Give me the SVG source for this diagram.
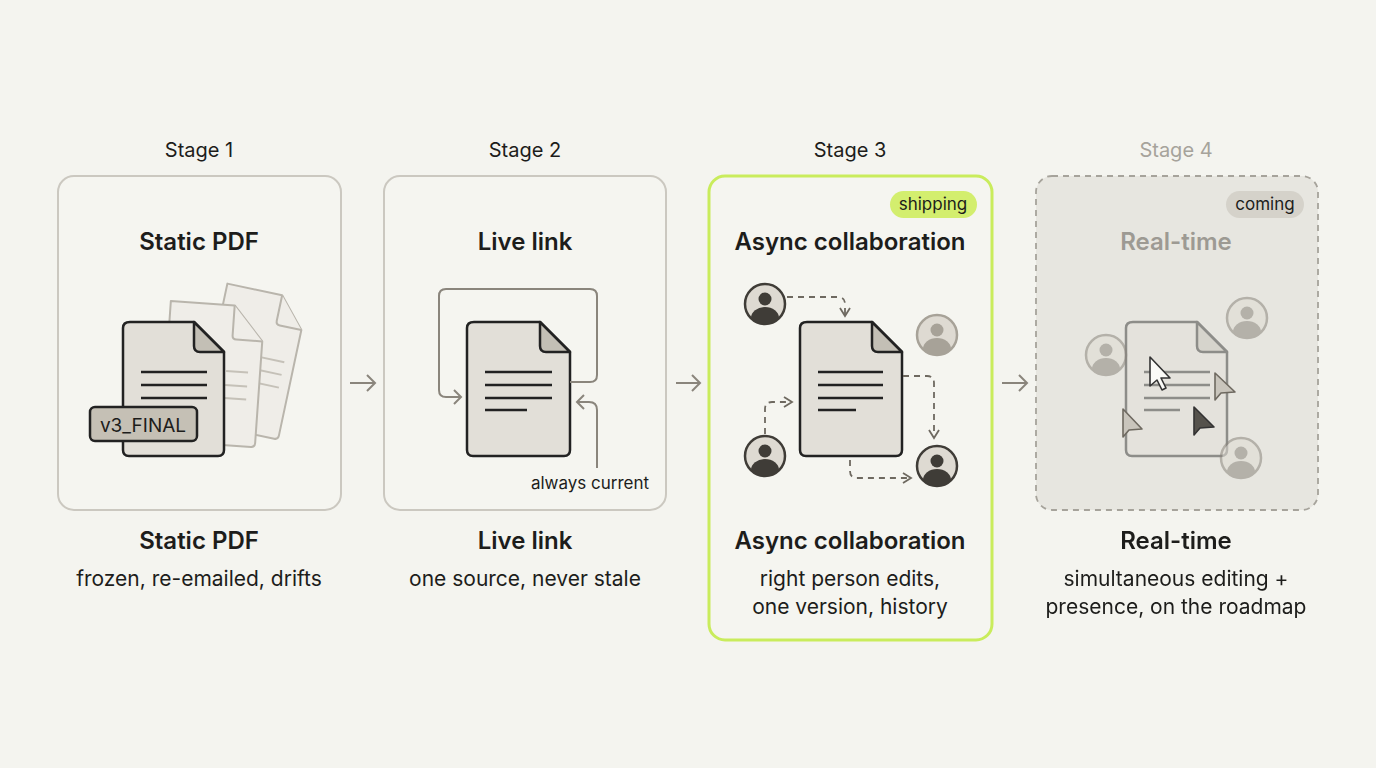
<svg xmlns="http://www.w3.org/2000/svg" width="1376" height="768" viewBox="0 0 1376 768">
<defs>
<style>
.t{font-family:Inter,"Liberation Sans",sans-serif;fill:#1d1d1b;text-anchor:middle}
.stage{font-size:20px}
.h{font-size:24px;font-weight:600}
.s{font-size:21px}
.card{fill:#f5f5f0;stroke:#cbc8c0;stroke-width:2}
.doc{fill:#e2dfd8;stroke:#222;stroke-width:2.5;stroke-linejoin:round}
.fold{fill:#c3bfb5;stroke:#222;stroke-width:2.5;stroke-linejoin:round}
.ln{stroke:#222;stroke-width:2.5}
.con{fill:none;stroke:#8a857c;stroke-width:2}
.dash{fill:none;stroke:#6e6960;stroke-width:1.8;stroke-dasharray:6 5}
.ghost{fill:#efede8;stroke:#b9b5ac;stroke-width:2;stroke-linejoin:round}
.gl{stroke:#c5c1b8;stroke-width:2}
</style>
<marker id="ah" viewBox="0 0 12 12" refX="10" refY="6" markerWidth="12" markerHeight="12" markerUnits="userSpaceOnUse" orient="auto"><path d="M2,1 L10,6 L2,11" fill="none" stroke="#6e6960" stroke-width="1.8"/></marker>
<symbol id="av" viewBox="-21 -21 42 42" overflow="visible"><circle r="20" stroke="currentColor" stroke-width="2.5" fill="#dedad2"/><circle cy="-5" r="6.5" fill="currentColor"/><path d="M-14,14 A14,11 0 0 1 14,14 A20,20 0 0 1 -14,14Z" fill="currentColor"/></symbol>
</defs>
<rect width="1376" height="768" fill="#f4f4ef"/>
<g id="labels">
<text class="t stage" x="199" y="157">Stage 1</text>
<text class="t stage" x="525" y="157">Stage 2</text>
<text class="t stage" x="850" y="157">Stage 3</text>
<text class="t stage" x="1176" y="157" style="fill:#a6a39b">Stage 4</text>
</g>
<g id="stage1">
<rect class="card" x="58" y="176" width="283" height="334" rx="16"/>
<text class="t h" x="199" y="250">Static PDF</text>
<g transform="rotate(12 250 360)">
<path class="ghost" d="M212,290 L268,290 L294,320 L294,428 Q294,432 290,432 L216,432 Q212,432 212,428Z"/>
<path class="ghost" d="M268,290 L268,316 Q268,320 272,320 L294,320"/>
<line class="gl" x1="256" y1="355" x2="284" y2="355"/><line class="gl" x1="256" y1="368" x2="284" y2="368"/><line class="gl" x1="256" y1="381" x2="284" y2="381"/>
</g>
<g transform="rotate(4 212 372)">
<path class="ghost" d="M166,304 L230,304 L260,338 L260,440 Q260,444 256,444 L170,444 Q166,444 166,440Z"/>
<path class="ghost" d="M230,304 L230,334 Q230,338 234,338 L260,338"/>
<line class="gl" x1="226" y1="370" x2="248" y2="370"/><line class="gl" x1="226" y1="384" x2="248" y2="384"/><line class="gl" x1="226" y1="397" x2="248" y2="397"/>
</g>
<path class="doc" d="M130,322 L194,322 L224,352 L224,450 Q224,456 218,456 L129,456 Q123,456 123,450 L123,328 Q123,322 130,322Z"/>
<path class="fold" d="M194,322 L194,346 Q194,352 200,352 L224,352Z"/>
<line class="ln" x1="141" y1="372" x2="207" y2="372"/><line class="ln" x1="141" y1="385" x2="207" y2="385"/><line class="ln" x1="141" y1="398" x2="207" y2="398"/>
<rect x="90" y="407" width="107" height="34" rx="5" fill="#c5c0b5" stroke="#222" stroke-width="2.5"/>
<text class="t" x="143" y="432" style="font-size:19px">v3_FINAL</text>
<text class="t h" x="199" y="549">Static PDF</text>
<text class="t s" x="199" y="586">frozen, re-emailed, drifts</text>
</g>
<g id="stage2">
<rect class="card" x="384" y="176" width="282" height="334" rx="16"/>
<text class="t h" x="525" y="250">Live link</text>
<path class="doc" d="M474,322 L540,322 L570,352 L570,450 Q570,456 564,456 L473,456 Q467,456 467,450 L467,328 Q467,322 474,322Z"/>
<path class="fold" d="M540,322 L540,346 Q540,352 546,352 L570,352Z"/>
<line class="ln" x1="485" y1="372" x2="552" y2="372"/><line class="ln" x1="485" y1="385" x2="552" y2="385"/><line class="ln" x1="485" y1="398" x2="552" y2="398"/><line class="ln" x1="485" y1="410" x2="527" y2="410"/>
<text class="t" x="590" y="489" style="font-size:17px">always current</text>
<text class="t h" x="525" y="549">Live link</text>
<text class="t s" x="525" y="586">one source, never stale</text>
</g>
<g id="stage3">
<rect x="709" y="176" width="283" height="464" rx="16" fill="#f5f5f0" stroke="#c9ec5c" stroke-width="3"/>
<rect x="890" y="191" width="87" height="27" rx="13.5" fill="#d3ee6e"/>
<text class="t" x="933" y="210" style="font-size:17px">shipping</text>
<text class="t h" x="850" y="250">Async collaboration</text>
<path class="doc" d="M807,322 L872,322 L902,352 L902,450 Q902,456 896,456 L806,456 Q800,456 800,450 L800,328 Q800,322 807,322Z"/>
<path class="fold" d="M872,322 L872,346 Q872,352 878,352 L902,352Z"/>
<line class="ln" x1="818" y1="372" x2="883" y2="372"/><line class="ln" x1="818" y1="385" x2="883" y2="385"/><line class="ln" x1="818" y1="398" x2="883" y2="398"/><line class="ln" x1="818" y1="410" x2="856" y2="410"/>
<use href="#av" x="744" y="283" width="42" height="42" style="color:#3f3c37"/>
<use href="#av" x="916" y="314" width="42" height="42" style="color:#a7a298"/>
<use href="#av" x="744" y="435" width="42" height="42" style="color:#3f3c37"/>
<use href="#av" x="916" y="445" width="42" height="42" style="color:#3f3c37"/>
<text class="t h" x="850" y="549">Async collaboration</text>
<text class="t s" x="850" y="586">right person edits,</text>
<text class="t s" x="850" y="614">one version, history</text>
</g>
<g id="stage4">
<rect x="1036" y="176" width="282" height="334" rx="16" fill="#e7e6e0" stroke="#a6a39b" stroke-width="1.8" stroke-dasharray="6 5"/>
<rect x="1226" y="191" width="78" height="27" rx="13.5" fill="#d5d2ca"/>
<text class="t" x="1265" y="210" style="font-size:17px">coming</text>
<text class="t h" x="1176" y="250" style="fill:#9d9a93">Real-time</text>
<g opacity="0.45">
<path class="doc" d="M1133,322 L1197,322 L1227,352 L1227,450 Q1227,456 1221,456 L1132,456 Q1126,456 1126,450 L1126,328 Q1126,322 1133,322Z"/>
<path class="fold" d="M1197,322 L1197,346 Q1197,352 1203,352 L1227,352Z"/>
<line class="ln" x1="1144" y1="372" x2="1210" y2="372"/><line class="ln" x1="1144" y1="385" x2="1210" y2="385"/><line class="ln" x1="1144" y1="398" x2="1210" y2="398"/><line class="ln" x1="1144" y1="410" x2="1180" y2="410"/>
</g>
<g opacity="0.55">
<use href="#av" x="1085" y="334" width="42" height="42" style="color:#8a857c"/>
<use href="#av" x="1226" y="297" width="42" height="42" style="color:#8a857c"/>
<use href="#av" x="1220" y="437" width="42" height="42" style="color:#8a857c"/>
</g>
<path d="M1150,357 L1150,386 L1157,380 L1162,390 L1166,388 L1161,378 L1170,378Z" fill="#fafaf7" stroke="#333" stroke-width="1.6" stroke-linejoin="round"/>
<path d="M1215,373 L1215,400 L1221,393 L1235,392Z" fill="#c9c5bc" stroke="#6e6960" stroke-width="1.6" stroke-linejoin="round"/>
<path d="M1123,409 L1123,437 L1129,430 L1142,429Z" fill="#c9c5bc" stroke="#6e6960" stroke-width="1.6" stroke-linejoin="round"/>
<path d="M1194,407 L1194,435 L1200,428 L1214,427Z" fill="#55524c" stroke="#333" stroke-width="1.6" stroke-linejoin="round"/>
<text class="t h" x="1176" y="549">Real-time</text>
<text class="t s" x="1176" y="586">simultaneous editing +</text>
<text class="t s" x="1176" y="614">presence, on the roadmap</text>
</g>
<g id="connectors">
<path class="con" d="M350,383 H375 M367,375 L375,383 L367,391"/>
<path class="con" d="M676,383 H700 M692,375 L700,383 L692,391"/>
<path class="con" d="M1002,383 H1027 M1019,375 L1027,383 L1019,391"/>
<path class="con" d="M570,382 H590 Q597,382 597,375 V296 Q597,289 590,289 H446 Q439,289 439,296 V390 Q439,397 446,397 H461 M454,390 L461,397 L454,404"/>
<path class="con" d="M597,468 V410 Q597,402 589,402 H577 M584,395 L577,402 L584,409"/>
<path class="dash" d="M787,297 H838 Q845,297 845,304 V316" marker-end="url(#ah)"/>
<path class="dash" d="M765,434 V409 Q765,402 772,402 H792" marker-end="url(#ah)"/>
<path class="dash" d="M903,376 H927 Q934,376 934,383 V438" marker-end="url(#ah)"/>
<path class="dash" d="M850,460 V471 Q850,478 857,478 H911" marker-end="url(#ah)"/>
</g>
</svg>
